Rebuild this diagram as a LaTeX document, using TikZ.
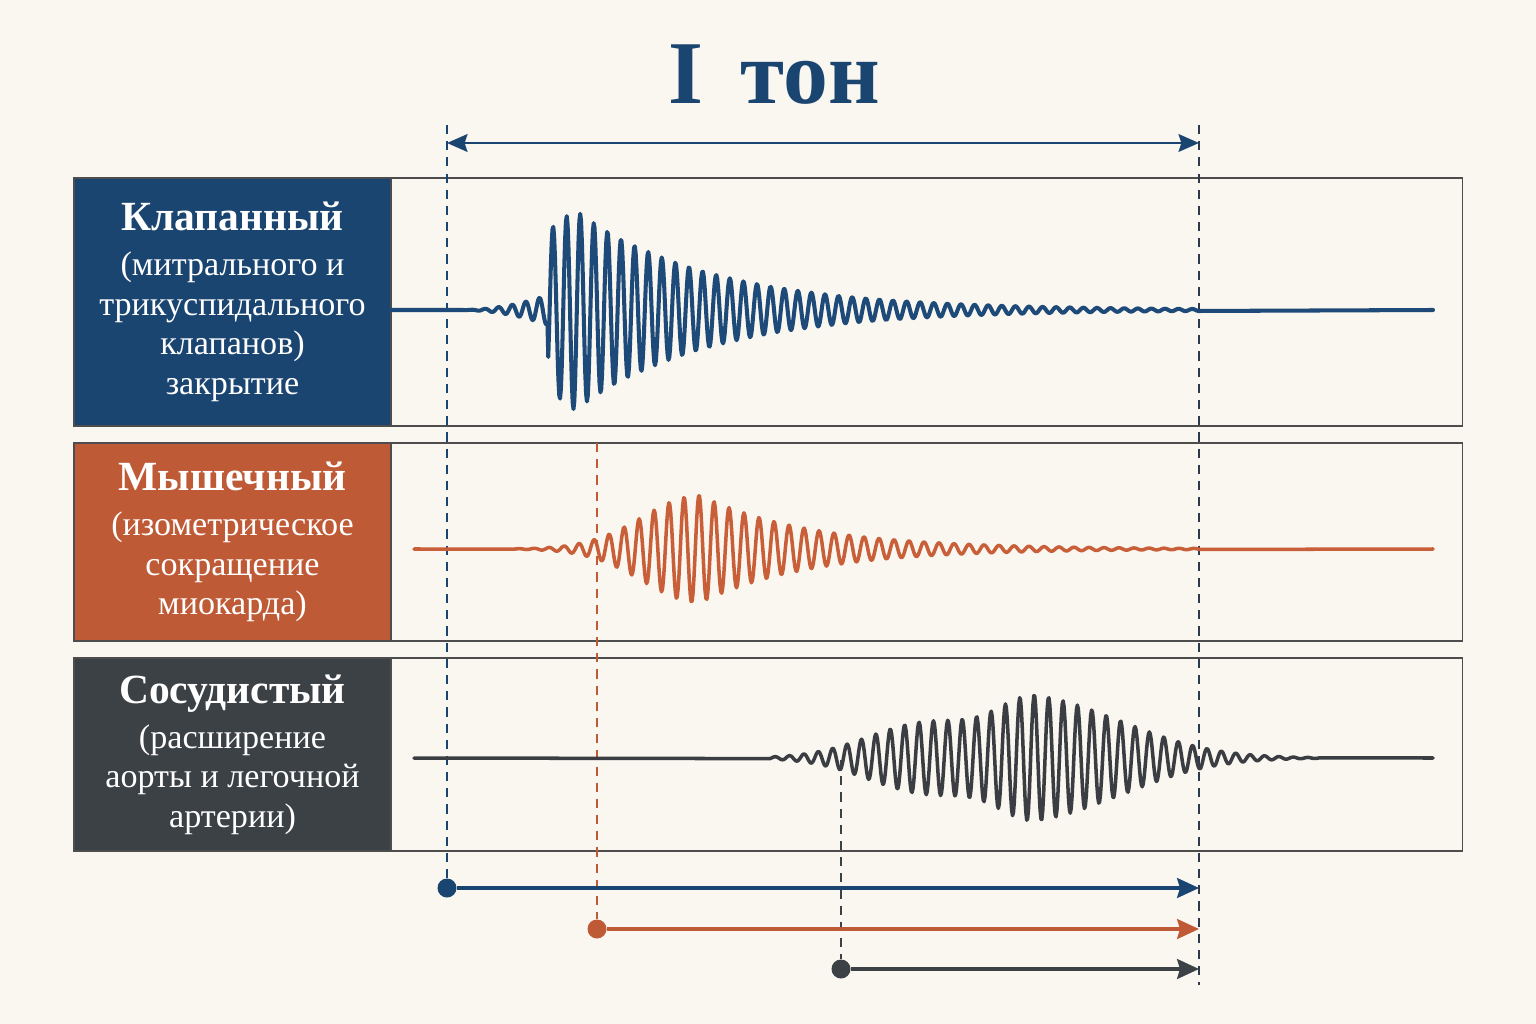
\documentclass[tikz,border=0pt]{standalone}
\usepackage{fontspec}
\setmainfont{Liberation Serif}
\usetikzlibrary{arrows.meta}
\definecolor{bgc}{HTML}{FAF6F0}
\definecolor{cblue}{HTML}{1B4571}
\definecolor{wblue}{HTML}{1D4A78}
\definecolor{corange}{HTML}{BF5A36}
\definecolor{worange}{HTML}{C85F38}
\definecolor{cgray}{HTML}{3C4146}
\definecolor{wgray}{HTML}{3A3E43}
\definecolor{framec}{HTML}{4D4D4D}
\definecolor{dashdark}{HTML}{2C3A4C}
\newcommand\lblhead[1]{{\bfseries\fontsize{11.8}{13}\selectfont #1}}
\begin{document}
\begin{tikzpicture}[x=0.01cm,y=-0.01cm,
  declare function={
    gs(\x,\c,\s)=exp(-min(10,((\x-\c)/\s)^2));
    envB(\x)=(\x<548)?(15*((\x-460)/88)^2):((\x<575)?(80+0.75*(\x-548)):(100*exp(-(\x-575)/135)));
    envO(\x)=(\x<700)?(54*gs(\x,700,80)):(54*exp(-(\x-700)/110));
    envG(\x)=36*gs(\x,930,85)+56*((\x<1040)?(gs(\x,1040,55)):(gs(\x,1040,125)));
  },
  panel/.style={draw=framec, line width=0.45pt, inner sep=0pt},
  labbox/.style={panel, text=white, align=center, minimum width=3.17cm,
    font=\fontsize{9.7}{11.24}\selectfont},
  wave/.style={line width=1.15pt, line join=round, line cap=round},
  guide/.style={line width=0.5pt, dash pattern=on 2.6pt off 2pt},
  arr/.style={line width=1.1pt, -{Stealth[length=6.2pt,width=5.6pt,inset=0.8pt]}},
  dot/.style={circle, inner sep=0pt, minimum size=0.19cm},
]
\fill[bgc] (0,0) rectangle (1536,1024);
\useasboundingbox (0,0) rectangle (1536,1024);

% title
\node[font=\bfseries\fontsize{25.5}{30}\selectfont, text=cblue, anchor=base, inner sep=0pt]
  (title) at (774,103) {I\hspace{0.42em}тон};

% panels
\node[panel, minimum width=13.88cm, minimum height=2.48cm] (p1) at (768,302) {};
\node[panel, minimum width=13.88cm, minimum height=1.98cm] (p2) at (768,542) {};
\node[panel, minimum width=13.88cm, minimum height=1.93cm] (p3) at (768,754.5) {};

\node[labbox, fill=cblue, minimum height=2.48cm] (k1) at (232.5,302)
  {\lblhead{Клапанный}\\[1.6pt](митрального и\\трикуспидального\\клапанов)\\закрытие};
\node[labbox, fill=corange, minimum height=1.98cm] (k2) at (232.5,542)
  {\lblhead{Мышечный}\\[1.6pt](изометрическое\\сокращение\\миокарда)};
\node[labbox, fill=cgray, minimum height=1.93cm] (k3) at (232.5,754.5)
  {\lblhead{Сосудистый}\\[1.6pt](расширение\\аорты и легочной\\артерии)};

% coordinates
\coordinate (ga1) at (447,125);
\coordinate (gb1) at (1199,125);
\coordinate (gb2) at (1199,985);
\coordinate (go1) at (597,443);
\coordinate (gg1) at (841,760);
\coordinate (tl) at (447,143);
\coordinate (tr) at (1199,143);
\coordinate (e1) at (1199,888);
\coordinate (e2) at (1199,929);
\coordinate (e3) at (1199,969);

\node[dot, fill=cblue] (d1) at (447,888) {};
\node[dot, fill=corange] (d2) at (597,929) {};
\node[dot, fill=cgray] (d3) at (841,969) {};

% guides
\draw[guide, cblue] (ga1) -- (d1.north);
\draw[guide, dashdark] (gb1) -- (gb2);
\draw[guide, corange] (go1) -- (d2.north);
\draw[guide, cgray] (gg1) -- (d3.north);

% top arrow
\draw[line width=0.85pt, cblue,
  {Stealth[length=5.8pt,width=5pt,inset=0.8pt]}-{Stealth[length=5.8pt,width=5pt,inset=0.8pt]}]
  (tl) -- (tr);

% waves
\draw[wave, wblue] (391,310) -- plot[variable=\t, domain=0:54.34, samples=880]
  ({460+13.6*\t},{310-envB(460+13.6*\t)*sin(360*frac(\t+0.41))}) -- (1433,310);
\draw[wave, worange, line width=1pt] (414,549) -- plot[variable=\t, domain=0:45.67, samples=740]
  ({515+15*\t},{549-envO(515+15*\t)*sin(360*frac(\t+0.98))}) -- (1433,549);
\draw[wave, wgray, line width=1pt] (414,758) -- plot[variable=\t, domain=0:38.19, samples=620]
  ({770+14.4*\t},{758-envG(770+14.4*\t)*sin(360*frac(\t+0.9))}) -- (1433,758);

% bottom arrows
\draw[arr, cblue] (d1) -- (e1);
\draw[arr, corange] (d2) -- (e2);
\draw[arr, cgray] (d3) -- (e3);
\end{tikzpicture}
\end{document}
